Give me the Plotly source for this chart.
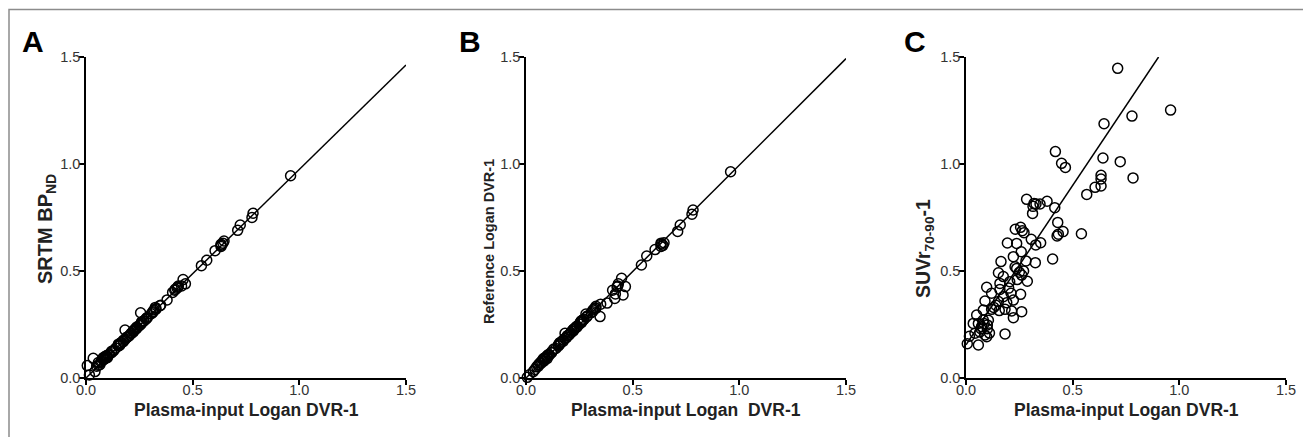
import plotly.graph_objects as go

# Plasma-input Logan DVR-1 (shared x values for all three panels)
x_plasma = [0.006, 0.016, 0.034, 0.042, 0.050, 0.058, 0.058, 0.065, 0.070, 0.073,
            0.081, 0.081, 0.085, 0.089, 0.089, 0.097, 0.097, 0.100, 0.100, 0.105,
            0.110, 0.120, 0.120, 0.130, 0.140, 0.152, 0.152, 0.156, 0.159, 0.159,
            0.164, 0.175, 0.175, 0.183, 0.183, 0.191, 0.194, 0.200, 0.205, 0.211,
            0.214, 0.222, 0.222, 0.222, 0.230, 0.231, 0.2375, 0.2375, 0.240, 0.250,
            0.256, 0.256, 0.259, 0.261, 0.261, 0.264, 0.270, 0.272, 0.281, 0.284,
            0.2875, 0.306, 0.312, 0.314, 0.319, 0.325, 0.327, 0.328, 0.347, 0.350,
            0.380, 0.406, 0.416, 0.419, 0.427, 0.430, 0.433, 0.448, 0.455, 0.466,
            0.541, 0.566, 0.605, 0.633, 0.633, 0.633, 0.642, 0.647, 0.711, 0.723,
            0.778, 0.783, 0.959]

# Panel A: SRTM BPND
y_srtm = [0.058, 0.014, 0.092, 0.030, 0.055, 0.060, 0.072, 0.062, 0.075, 0.080,
          0.085, 0.095, 0.088, 0.092, 0.100, 0.098, 0.105, 0.100, 0.095, 0.108,
          0.112, 0.118, 0.125, 0.128, 0.140, 0.150, 0.158, 0.152, 0.160, 0.155,
          0.165, 0.170, 0.176, 0.224, 0.180, 0.190, 0.192, 0.195, 0.200, 0.208,
          0.210, 0.218, 0.215, 0.222, 0.226, 0.230, 0.232, 0.238, 0.236, 0.245,
          0.250, 0.305, 0.255, 0.258, 0.262, 0.262, 0.265, 0.268, 0.275, 0.280,
          0.282, 0.300, 0.305, 0.310, 0.318, 0.330, 0.320, 0.325, 0.338, 0.340,
          0.365, 0.400, 0.410, 0.415, 0.420, 0.425, 0.430, 0.430, 0.460, 0.440,
          0.525, 0.550, 0.595, 0.615, 0.620, 0.625, 0.630, 0.640, 0.690, 0.715,
          0.750, 0.770, 0.945]

# Panel B: Reference Logan DVR-1
y_ref = [0.003, 0.015, 0.030, 0.040, 0.052, 0.062, 0.055, 0.070, 0.068, 0.078,
         0.082, 0.090, 0.080, 0.095, 0.088, 0.100, 0.098, 0.105, 0.092, 0.110,
         0.108, 0.122, 0.118, 0.135, 0.138, 0.155, 0.150, 0.160, 0.165, 0.158,
         0.168, 0.178, 0.172, 0.185, 0.209, 0.190, 0.198, 0.200, 0.205, 0.212,
         0.218, 0.220, 0.225, 0.228, 0.232, 0.235, 0.238, 0.242, 0.240, 0.252,
         0.258, 0.262, 0.265, 0.268, 0.260, 0.270, 0.272, 0.275, 0.299, 0.285,
         0.290, 0.305, 0.310, 0.318, 0.322, 0.328, 0.325, 0.335, 0.287, 0.345,
         0.350, 0.410, 0.372, 0.393, 0.425, 0.430, 0.440, 0.466, 0.388, 0.427,
         0.528, 0.570, 0.600, 0.615, 0.625, 0.630, 0.620, 0.632, 0.685, 0.715,
         0.765, 0.785, 0.964]

# Panel C: SUVr70-90 - 1
y_suvr = [0.160, 0.195, 0.255, 0.209, 0.294, 0.154, 0.255, 0.215, 0.230, 0.240,
          0.271, 0.318, 0.255, 0.201, 0.360, 0.193, 0.424, 0.248, 0.230, 0.270,
          0.210, 0.321, 0.396, 0.330, 0.340, 0.357, 0.492, 0.315, 0.414, 0.442,
          0.544, 0.380, 0.474, 0.206, 0.321, 0.352, 0.631, 0.420, 0.450, 0.396,
          0.313, 0.282, 0.364, 0.567, 0.520, 0.695, 0.512, 0.629, 0.460, 0.494,
          0.391, 0.704, 0.590, 0.310, 0.481, 0.688, 0.500, 0.679, 0.547, 0.835,
          0.452, 0.648, 0.769, 0.802, 0.816, 0.539, 0.622, 0.813, 0.813, 0.632,
          0.826, 0.556, 0.796, 1.058, 0.664, 0.727, 0.672, 1.003, 0.684, 0.984,
          0.674, 0.858, 0.891, 0.897, 0.930, 0.947, 1.028, 1.188, 1.447, 1.011,
          1.224, 0.935, 1.252]

# Linear regression fits (slope, intercept)
fit_A = (0.975, 0.0)
fit_B = (0.995, 0.0)
fit_C = (1.49, 0.155)

axis_max = 1.5
tick_vals = [0, 0.5, 1.0, 1.5]

y_titles = ["<b>SRTM BP<sub>ND</sub></b>",
            "<b>Reference Logan DVR-1</b>",
            "<b>SUVr<sub>70-90</sub>-1</b>"]
x_titles = ["<b>Plasma-input Logan DVR-1</b>",
            "<b>Plasma-input Logan \u00a0DVR-1</b>",
            "<b>Plasma-input Logan DVR-1</b>"]
panel_letters = ["A", "B", "C"]

# page body has an 8px margin: lay out in figure pixels (page px - 8)
W, H = 1303, 429
plot_left = [78, 518, 958]
plot_w = 320
plot_top, plot_bot = 49, 370
y_domain = (1 - plot_bot / H, 1 - plot_top / H)
letter_x = [12, 449, 894]
letter_y = 34
ytitle_pos = [(38, 221, 20), (481, 234, 14.5), (917, 241, 19.5)]
xtitle_y = 402

FONT = "Liberation Sans, Arial, sans-serif"

fig = go.Figure()
series = [y_srtm, y_ref, y_suvr]
fits = [fit_A, fit_B, fit_C]

for i in range(3):
    xa = "x" if i == 0 else f"x{i+1}"
    ya = "y" if i == 0 else f"y{i+1}"
    m, b = fits[i]
    x_end = min(axis_max, (axis_max - b) / m)
    fig.add_trace(go.Scatter(
        x=[0, x_end], y=[b, m * x_end + b], mode="lines",
        line=dict(color="black", width=1.5), xaxis=xa, yaxis=ya,
        hoverinfo="skip", cliponaxis=True))
    fig.add_trace(go.Scatter(
        x=x_plasma, y=series[i], mode="markers",
        marker=dict(symbol="circle-open", size=10, color="black",
                    line=dict(width=1.5, color="black")),
        xaxis=xa, yaxis=ya, cliponaxis=False))

    common = dict(range=[0, axis_max], tickvals=tick_vals, tickformat=".1f",
                  showline=True, linecolor="black", linewidth=1.5,
                  ticks="outside", ticklen=5, tickwidth=1.5, tickcolor="black",
                  showgrid=False, zeroline=False, automargin=False,
                  tickfont=dict(family=FONT, size=14.5, color="#333333"))
    xkey = "xaxis" if i == 0 else f"xaxis{i+1}"
    ykey = "yaxis" if i == 0 else f"yaxis{i+1}"
    x0 = plot_left[i]
    fig.update_layout({
        xkey: dict(common, domain=[x0 / W, (x0 + plot_w) / W], anchor=ya,
                   ticklabelstandoff=-7),
        ykey: dict(common, domain=list(y_domain), anchor=xa,
                   ticklabelstandoff=-4),
    })
    # x-axis title
    fig.add_annotation(x=(x0 + plot_w / 2) / W, y=1 - xtitle_y / H,
                       xref="paper", yref="paper", text=x_titles[i],
                       showarrow=False, xanchor="center", yanchor="middle",
                       font=dict(family=FONT, size=17.5, color="#222222"))
    # y-axis title
    tx, ty, fs = ytitle_pos[i]
    fig.add_annotation(x=tx / W, y=1 - ty / H, xref="paper", yref="paper",
                       text=y_titles[i], textangle=-90, showarrow=False,
                       xanchor="center", yanchor="middle",
                       font=dict(family=FONT, size=fs, color="#222222"))
    # panel letter
    fig.add_annotation(x=letter_x[i] / W, y=1 - letter_y / H,
                       xref="paper", yref="paper",
                       text=f"<b>{panel_letters[i]}</b>", showarrow=False,
                       xanchor="left", yanchor="middle",
                       font=dict(family=FONT, size=30, color="black"))

fig.add_shape(type="rect", xref="paper", yref="paper",
              x0=1 / W, x1=1302 / W, y0=-0.2, y1=1 - 1.5 / H,
              line=dict(color="#8c8c8c", width=1.5), fillcolor="rgba(0,0,0,0)")

fig.update_layout(width=W, height=H, margin=dict(l=0, r=0, t=0, b=0),
                  paper_bgcolor="white", plot_bgcolor="white",
                  showlegend=False, font=dict(family=FONT))

fig.write_html("out.html")
